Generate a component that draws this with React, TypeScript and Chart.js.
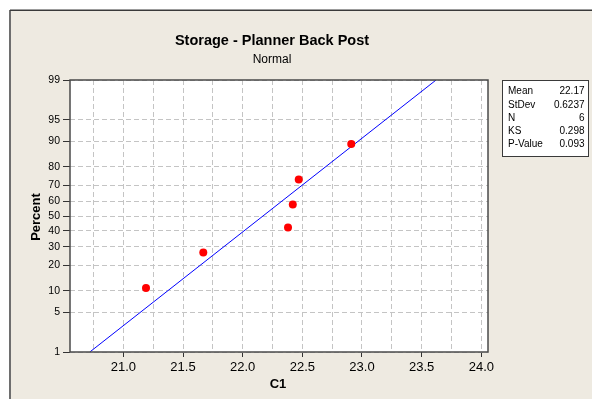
import React, { useEffect, useRef } from "react";
import { Chart, registerables } from "chart.js";

Chart.register(...registerables);

// ---- Data ----
const chartTitle = "Storage - Planner Back Post";
const chartSubtitle = "Normal";
const xAxisTitle = "C1";
const yAxisTitle = "Percent";

const xValues = [21.19, 21.67, 22.38, 22.42, 22.47, 22.91];
const percentValues = [10.94, 26.56, 42.19, 57.81, 73.44, 89.06];

const fitMean = 22.17;
const fitStdDev = 0.6237;

const statLabels = ["Mean", "StDev", "N", "KS", "P-Value"];
const statValues = ["22.17", "0.6237", "6", "0.298", "0.093"];

const yTickPercents = [1, 5, 10, 20, 30, 40, 50, 60, 70, 80, 90, 95, 99];
const xGridValues = [
  20.75, 21.0, 21.25, 21.5, 21.75, 22.0, 22.25, 22.5, 22.75, 23.0, 23.25, 23.5, 23.75, 24.0,
];
const xMin = 20.553;
const xMax = 24.056;

// ---- Normal probability (probit) transform ----
function probit(p: number): number {
  const a = [-3.969683028665376e1, 2.209460984245205e2, -2.759285104469687e2, 1.38357751867269e2, -3.066479806614716e1, 2.506628277459239];
  const b = [-5.447609879822406e1, 1.615858368580409e2, -1.556989798598866e2, 6.680131188771802e1, -1.328068155288572e1];
  const c = [-7.784894002430293e-3, -3.223964580411365e-1, -2.400758277161838, -2.549732539343734, 4.374664141464968, 2.93816398269165];
  const d = [7.784695709041462e-3, 3.224671290700398e-1, 2.445134137142996, 3.754408661907416];
  const plow = 0.02425;
  if (p < plow) {
    const q = Math.sqrt(-2 * Math.log(p));
    return (((((c[0] * q + c[1]) * q + c[2]) * q + c[3]) * q + c[4]) * q + c[5]) /
      ((((d[0] * q + d[1]) * q + d[2]) * q + d[3]) * q + 1);
  }
  if (p <= 1 - plow) {
    const q = p - 0.5;
    const r = q * q;
    return ((((((a[0] * r + a[1]) * r + a[2]) * r + a[3]) * r + a[4]) * r + a[5]) * q) /
      (((((b[0] * r + b[1]) * r + b[2]) * r + b[3]) * r + b[4]) * r + 1);
  }
  const q = Math.sqrt(-2 * Math.log(1 - p));
  return -(((((c[0] * q + c[1]) * q + c[2]) * q + c[3]) * q + c[4]) * q + c[5]) /
    ((((d[0] * q + d[1]) * q + d[2]) * q + d[3]) * q + 1);
}

const isMajor = (v: number) => Math.abs(v * 2 - Math.round(v * 2)) < 1e-6;

const FONT = "'Liberation Sans', Arial, sans-serif";
const BEIGE = "#EEEAE1";

const decorPlugin = {
  id: "decor",
  beforeDraw(chart: any) {
    const { ctx, width, height, chartArea } = chart;
    ctx.save();
    ctx.fillStyle = "#FFFFFF";
    ctx.fillRect(0, 0, width, height);
    ctx.fillStyle = BEIGE;
    ctx.fillRect(10, 10, width - 10, height - 10);
    // outer frame
    ctx.strokeStyle = "#6E6E6E";
    ctx.lineWidth = 2;
    ctx.beginPath();
    ctx.moveTo(10, height);
    ctx.lineTo(10, 10);
    ctx.stroke();
    ctx.strokeStyle = "#3A3A3A";
    ctx.lineWidth = 1.5;
    ctx.beginPath();
    ctx.moveTo(10, 10.25);
    ctx.lineTo(width, 10.25);
    ctx.stroke();
    // plot area
    ctx.fillStyle = "#FFFFFF";
    ctx.fillRect(chartArea.left, chartArea.top, chartArea.right - chartArea.left, chartArea.bottom - chartArea.top);
    ctx.restore();
  },
  afterDraw(chart: any) {
    const { ctx, chartArea } = chart;
    ctx.save();
    // plot frame
    ctx.strokeStyle = "#4A4A4A";
    ctx.lineWidth = 1.5;
    ctx.strokeRect(chartArea.left, chartArea.top, chartArea.right - chartArea.left, chartArea.bottom - chartArea.top);

    // titles
    ctx.fillStyle = "#000000";
    ctx.textAlign = "center";
    ctx.textBaseline = "alphabetic";
    ctx.font = `bold 14.5px ${FONT}`;
    ctx.fillText(chartTitle, 272, 44.5);
    ctx.font = `12px ${FONT}`;
    ctx.fillText(chartSubtitle, 272, 62.5);

    // axis titles
    ctx.font = `bold 13px ${FONT}`;
    ctx.textBaseline = "middle";
    ctx.fillText(xAxisTitle, 278, 384);
    ctx.save();
    ctx.translate(36, 217);
    ctx.rotate(-Math.PI / 2);
    ctx.fillText(yAxisTitle, 0, 0);
    ctx.restore();

    // stats box
    const bx = 502.5, by = 80.5, bw = 86, bh = 76;
    ctx.fillStyle = "#FFFFFF";
    ctx.fillRect(bx, by, bw, bh);
    ctx.strokeStyle = "#3A3A3A";
    ctx.lineWidth = 1;
    ctx.strokeRect(bx, by, bw, bh);
    ctx.fillStyle = "#000000";
    ctx.font = `10px ${FONT}`;
    ctx.textBaseline = "middle";
    statLabels.forEach((lab, i) => {
      const y = 91.7 + i * 13.2;
      ctx.textAlign = "left";
      ctx.fillText(lab, 508, y);
      ctx.textAlign = "right";
      ctx.fillText(statValues[i], 584.5, y);
    });
    ctx.restore();
  },
};

export default function App() {
  const canvasRef = useRef<HTMLCanvasElement | null>(null);

  useEffect(() => {
    document.body.style.margin = "0";
    const canvas = canvasRef.current;
    if (!canvas) return;

    const points = xValues.map((x, i) => ({ x, y: probit(percentValues[i] / 100) }));
    const pLow = yTickPercents[0] / 100;
    const pHigh = yTickPercents[yTickPercents.length - 1] / 100;
    const fitLine = [
      { x: fitMean + fitStdDev * probit(pLow), y: probit(pLow) },
      { x: fitMean + fitStdDev * probit(pHigh), y: probit(pHigh) },
    ];

    const chart = new Chart(canvas, {
      type: "scatter",
      data: {
        datasets: [
          {
            data: points,
            backgroundColor: "#FF0000",
            borderColor: "#FF0000",
            pointRadius: 4,
            pointBorderWidth: 0,
          },
          {
            data: fitLine,
            showLine: true,
            borderColor: "#0000FF",
            borderWidth: 1,
            pointRadius: 0,
            fill: false,
          } as any,
        ],
      },
      options: {
        animation: false,
        responsive: false,
        events: [],
        layout: { padding: { top: 80, right: 104, left: 0, bottom: 0 } },
        plugins: {
          legend: { display: false },
          tooltip: { enabled: false },
          title: { display: false },
        },
        scales: {
          x: {
            type: "linear",
            min: xMin,
            max: xMax,
            afterFit: (scale: any) => {
              scale.height = 47;
            },
            afterBuildTicks: (scale: any) => {
              scale.ticks = xGridValues.map((v) => ({ value: v }));
            },
            ticks: {
              autoSkip: false,
              maxRotation: 0,
              padding: 3,
              color: "#000000",
              font: { family: FONT, size: 13 },
              callback: (value: any) => (isMajor(Number(value)) ? Number(value).toFixed(1) : ""),
            },
            grid: {
              color: "#C4C4C4",
              lineWidth: 1,
              tickLength: 5,
              tickColor: (ctx: any) => (ctx.tick && isMajor(ctx.tick.value) ? "#333333" : "rgba(0,0,0,0)"),
              tickBorderDash: [],
            } as any,
            border: { display: false, dash: [5, 3] },
          },
          y: {
            type: "linear",
            min: probit(pLow),
            max: probit(pHigh),
            afterFit: (scale: any) => {
              scale.width = 70;
            },
            afterBuildTicks: (scale: any) => {
              scale.ticks = yTickPercents.map((p) => ({ value: probit(p / 100) }));
            },
            ticks: {
              autoSkip: false,
              padding: 3,
              color: "#000000",
              font: { family: FONT, size: 10.5 },
              callback: (_value: any, index: number) => String(yTickPercents[index]),
            },
            grid: {
              color: "#C4C4C4",
              lineWidth: 1,
              tickLength: 7,
              tickColor: "#333333",
              tickBorderDash: [],
            } as any,
            border: { display: false, dash: [5, 3] },
          },
        },
      },
      plugins: [decorPlugin],
    });

    return () => chart.destroy();
  }, []);

  return (
    <div style={{ width: 592, height: 399, position: "relative" }}>
      <canvas ref={canvasRef} width={592} height={399} style={{ display: "block" }} />
    </div>
  );
}
